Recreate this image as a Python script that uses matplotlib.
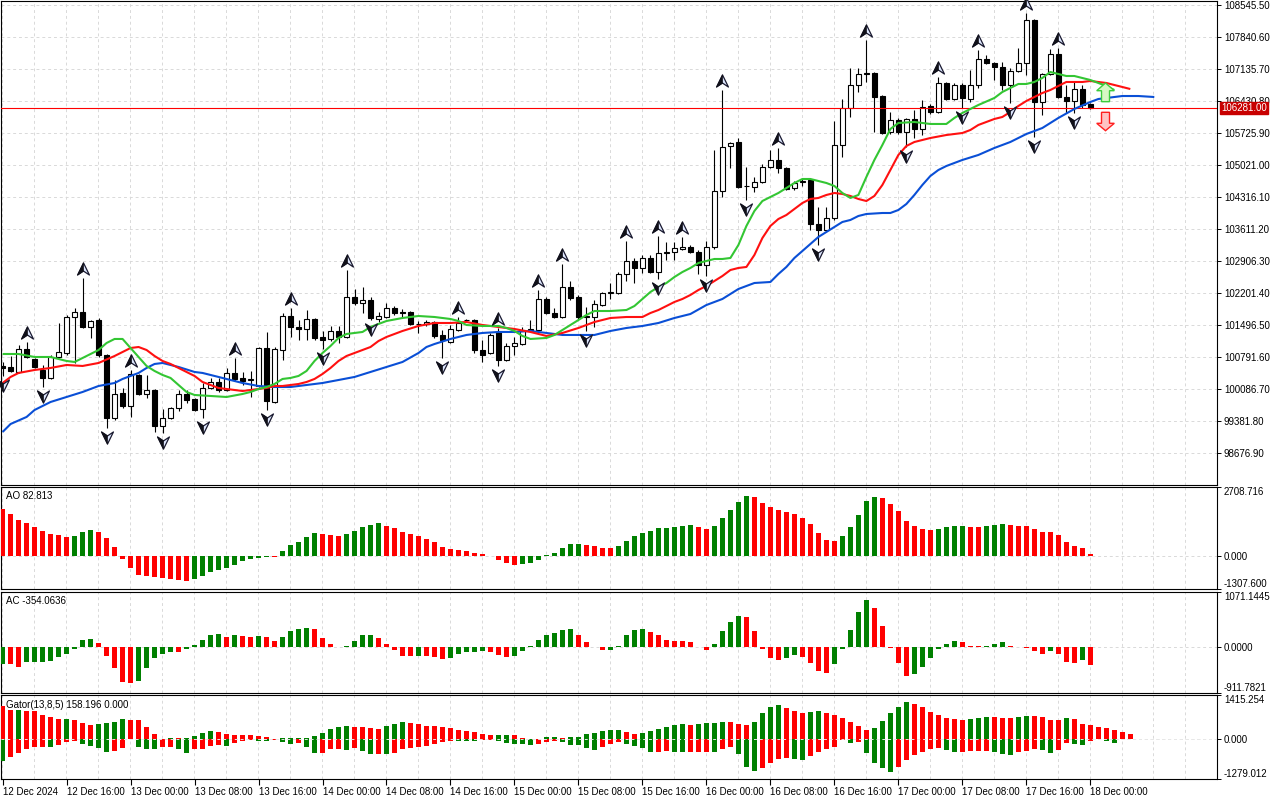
import numpy as np
import matplotlib
matplotlib.use("Agg")
import matplotlib.pyplot as plt
from matplotlib.path import Path
from matplotlib.markers import MarkerStyle
from matplotlib.patches import Polygon
import matplotlib.transforms as mtransforms

plt.rcParams['font.family'] = ['Liberation Sans', 'DejaVu Sans']

# ---------------- data (H1 candles, 12 Dec 08:00 .. 18 Dec 00:00) ----------------
opens = [100594,100572,100462,100968,100748,100506,100330,100792,100880,101673,
         101783,101453,101607,100836,99448,99999,99713,100396,99977,100065,
         99272,99448,99669,99977,99867,99647,100109,100241,100065,100440,
         100330,100285,100153,100990,99801,100946,101695,101453,101409,101629,
         101233,101189,101365,101233,102114,101982,102048,101629,101673,101871,
         101783,101783,101519,101519,101563,101277,101122,101387,101607,101607,
         100946,100880,101343,100726,101034,101078,101387,101387,102070,101761,
         101673,102334,102114,101695,101673,101937,102202,102202,102620,102907,
         102753,102973,102664,103083,103105,103171,103215,103105,102819,103215,
         104449,105430,105528,104559,104537,104647,104977,105132,104955,104515,
         104647,104691,103722,103590,103854,105462,106277,106784,107048,107048,
         106541,105748,106013,105748,106035,105814,106321,106189,106828,106475,
         106784,106475,106784,107356,107268,107180,106784,107092,107268,108215,
         106409,107026,107467,106519,106431,106695,106365]
highs = [100682,100814,101056,101122,100770,100616,100836,101541,101717,101871,
         102532,101607,101651,100858,100285,100109,100506,100418,100396,100087,
         99647,99691,100065,100065,99889,100219,100330,100330,100550,100770,
         100462,100484,101012,101343,101012,101761,101871,101607,101827,101651,
         101365,101475,101475,102708,102290,102334,102114,101783,101982,101915,
         101849,101805,101585,101607,101585,101387,101497,101673,101629,101629,
         101166,101321,101431,101100,101233,101453,101607,102268,102114,101871,
         102841,102466,102158,101893,102048,102224,102422,102664,103347,102973,
         103039,103039,103458,103325,103325,103435,103259,103149,103347,105352,
         106673,105520,105616,104977,104757,105043,105352,105396,104977,104669,
         104735,104735,104096,104096,105991,106475,107158,107158,107775,107070,
         106563,106189,106057,106057,106233,106453,106365,106960,106850,106828,
         106828,107114,107555,107444,107290,107290,107158,107599,108370,108237,
         107048,107577,107599,106784,106850,106784,106387]
lows = [100374,100462,100440,100770,100550,100131,100308,100770,100836,100660,
        101431,101211,100792,99228,99404,99669,99470,99955,99889,99140,
        99118,99426,99603,99779,99603,99448,100087,100021,100043,100263,
        100175,99911,100131,99625,99779,100726,101233,101166,101166,101166,
        100968,101144,101100,101211,101937,101761,101607,101563,101651,101717,
        101673,101497,101321,101475,101211,100770,101100,101365,101563,100880,
        100682,100858,100594,100704,100836,101056,101365,101365,101739,101651,
        101651,102048,101629,101365,101453,101915,102070,102180,102466,102422,
        102642,102642,102510,102929,102929,103149,103083,102620,102576,103171,
        104317,104955,104515,104250,104427,104625,104955,104845,104471,104471,
        104559,103590,103259,103546,103810,105198,106079,106629,106850,105748,
        105704,105704,105704,105418,105616,105682,106145,106167,106453,106453,
        106277,106409,106718,107246,106894,106673,106387,107070,107004,105638,
        106123,107004,106497,106167,106167,106277,106255]
closes = [100550,100484,100968,100792,100572,100330,100792,100902,101673,101783,
          101453,101585,100836,99448,99977,99713,100418,99977,100065,99272,
          99448,99669,99977,99845,99625,100109,100241,100065,100440,100308,
          100263,100295,100990,99823,100968,101695,101453,101409,101629,101211,
          101166,101365,101233,102114,101982,102048,101651,101695,101871,101761,
          101761,101519,101510,101563,101255,101166,101409,101541,101600,100946,
          100836,101277,100726,101034,101100,101387,101409,102070,101761,101673,
          102334,102092,101673,101673,101959,102202,102224,102620,102907,102753,
          102973,102664,103083,103105,103193,103215,103105,102819,103215,104449,
          105418,105500,104537,104550,104647,104977,105132,104955,104493,104625,
          104669,103722,103590,103854,105462,106277,106784,107026,107026,106519,
          105726,106013,105748,106035,105814,106299,106189,106828,106475,106784,
          106497,106784,107356,107268,107180,106784,107092,107268,108215,106409,
          107026,107467,106519,106431,106695,106343,106281]

current_price = 106281.00

# Bill Williams fractals (bar indices)
fractal_up = [3, 10, 16, 29, 36, 43, 57, 62, 67, 70, 78, 82, 85, 90, 97, 108, 117, 122, 128, 132]
fractal_down = [0, 5, 13, 20, 25, 33, 40, 46, 55, 62, 73, 82, 88, 93, 102, 113, 120, 126, 129, 134]

# Alligator (values read at listed bars, lines already shifted forward)
jaw_bars = [0,1,3,4,6,8,10,12,14,15,17,18,19,20,22,24,25,27,29,30,32,34,36,38,40,42,44,46,48,50,
            52,53,54,56,58,60,62,64,66,68,70,72,74,76,78,80,82,84,86,88,90,92,94,96,97,98,99,100,101,102,
            103,104,105,106,107,108,110,111,112,113,114,115,116,117,118,120,122,124,126,128,
            130,132,134,136,137,138,139,140,142,144]
jaw_vals = [99140,99316,99471,99625,99801,99911,100021,100153,100219,100308,
            100440,100550,100638,100660,100572,100462,100440,100352,100263,100219,
            100153,100131,100131,100175,100219,100285,100352,100462,100572,100682,
            100880,101012,101078,101189,101277,101321,101343,101343,101365,101321,
            101277,101277,101277,101365,101431,101475,101541,101651,101739,101937,
            102070,102290,102422,102444,102620,102775,102973,103127,103281,103436,
            103546,103656,103766,103810,103898,103942,103964,103964,104030,104162,
            104361,104581,104779,104911,104999,105132,105242,105396,105528,105704,
            105836,106057,106255,106409,106475,106497,106519,106541,106541,106519]
teeth_bars = [0,1,2,4,6,8,10,12,14,15,16,17,18,19,20,21,22,24,25,26,
              27,28,30,32,33,34,35,37,38,39,40,41,42,43,44,45,46,47,48,50,
              52,54,56,58,60,62,64,66,68,70,72,74,76,78,80,81,82,83,84,85,
              86,87,88,89,90,91,92,93,94,95,96,97,98,99,100,101,102,103,104,105,
              106,107,108,109,110,111,112,113,114,115,116,118,120,121,122,124,125,126,127,128,
              129,130,131,132,133,135,136,137,138,139,140,141]
teeth_vals = [100219,100352,100440,100506,100550,100616,100594,100660,100814,100902,
              100990,101012,100946,100814,100704,100638,100550,100374,100241,100175,
              100109,100087,100043,100087,100109,100153,100153,100197,100241,100308,
              100418,100550,100704,100814,100880,100946,101012,101144,101233,101365,
              101475,101541,101541,101563,101497,101453,101409,101343,101255,101321,
              101431,101563,101651,101673,101673,101761,101827,101915,102004,102070,
              102158,102268,102356,102466,102576,102708,102753,102775,103039,103413,
              103678,103832,103920,104052,104184,104273,104295,104361,104405,104383,
              104339,104273,104228,104339,104581,104911,105242,105440,105528,105572,
              105616,105682,105726,105792,105903,106035,106079,106189,106321,106431,
              106519,106607,106673,106762,106850,106850,106872,106850,106828,106784,
              106740,106695]
lips_bars = [0,2,4,6,8,9,10,12,13,14,15,16,17,18,19,20,21,22,23,24,
             26,28,30,31,32,33,34,35,36,37,38,39,40,41,42,43,44,45,46,48,
             50,52,54,56,57,58,60,62,63,64,65,66,68,69,70,71,72,73,74,76,
             78,79,80,81,82,83,84,85,86,87,88,89,90,91,92,93,94,95,96,97,
             98,99,100,101,102,103,104,105,106,107,108,109,110,111,112,114,116,118,119,120,
             122,124,125,126,127,128,129,130,131,132,133,134,135,136,137,138,139]
lips_vals = [100858,100858,100792,100792,100704,100682,100770,100946,101100,101189,
             101189,100990,100792,100594,100484,100396,100330,100175,100021,99955,
             99933,99911,99977,100021,100087,100131,100197,100308,100330,100374,
             100484,100704,100880,101034,101211,101299,101321,101343,101453,101585,
             101651,101695,101673,101629,101585,101497,101475,101475,101431,101365,
             101255,101189,101211,101277,101387,101497,101607,101717,101805,101805,
             101827,101915,102070,102224,102334,102422,102554,102664,102753,102863,
             102907,102951,102951,102973,103259,103678,104008,104228,104317,104405,
             104515,104625,104713,104713,104669,104625,104559,104405,104295,104361,
             104757,105132,105462,105814,105947,105969,105925,105925,106057,106167,
             106343,106497,106629,106718,106806,106806,106850,106938,107070,107026,
             106982,106982,106938,106894,106828,106762,106673]

# Alligator signal arrows (bar position, prices: tip / neck / base)
signal_bar = 137.9
buy_arrow = [106828, 106658, 106416]
sell_arrow = [106182, 105940, 105777]

# Awesome Oscillator
ao_values = [1841,1655,1418,1288,1130,984,865,826,747,760,
             932,1023,944,707,352,-111,-466,-743,-782,-833,
             -873,-912,-960,-980,-924,-794,-624,-557,-466,-348,
             -213,-134,-83,-32,-40,194,431,549,735,905,
             877,826,786,877,984,1142,1232,1272,1181,1110,
             944,865,786,668,549,352,273,233,194,115,
             75,-10,-162,-269,-359,-320,-269,-162,15,115,
             312,470,480,431,391,312,305,391,589,786,
             905,984,1102,1110,1142,1181,1221,1142,1063,1181,
             1497,1813,2129,2366,2327,2090,1932,1813,1734,1655,
             1497,1260,905,628,589,786,1142,1616,2169,2327,
             2287,2050,1774,1379,1181,1063,1023,1063,1142,1181,
             1190,1150,1142,1181,1221,1260,1221,1181,1175,1063,
             944,935,826,549,391,312,82.813]
# Accelerator Oscillator
ac_values = [-345,-352,-394,-308,-305,-295,-276,-197,-151,-52,
             131,157,79,-177,-413,-689,-722,-669,-413,-216,
             -138,-98,-105,-52,39,138,236,240,197,223,
             210,195,205,180,100,197,315,341,374,341,
             177,46,-13,13,118,230,235,177,46,-72,
             -184,-190,-180,-185,-203,-249,-223,-144,-105,-100,
             -85,-105,-164,-203,-184,-85,5,131,223,262,
             328,348,223,92,-5,-70,-62,20,223,328,
             335,289,223,131,105,100,85,0,-66,46,
             308,486,597,577,302,-46,-223,-262,-223,-164,
             -203,-321,-479,-518,-341,-46,321,676,912,754,
             400,-26,-321,-577,-538,-400,-223,-46,59,105,
             85,20,5,15,59,85,20,0,-26,-85,
             -144,-85,-144,-302,-321,-262,-354.0636]
# Gator Oscillator
gator_upper = [1048,919,925,915,887,759,695,631,640,599,
               513,438,470,513,545,631,625,599,374,150,
               5,32,30,35,86,182,257,214,150,145,
               140,118,86,53,5,21,25,30,35,86,
               182,310,374,406,400,374,342,310,406,475,
               545,513,481,417,410,385,353,289,257,224,
               160,128,130,135,125,32,15,10,64,70,
               21,64,70,160,192,257,289,295,224,160,
               192,257,321,385,449,481,449,481,513,515,
               545,540,481,449,545,834,1026,1090,994,898,
               834,866,898,834,770,673,545,417,289,353,
               577,834,1026,1186,1122,1026,866,770,673,641,
               609,641,673,705,700,673,670,705,737,730,
               705,609,600,673,641,500,440,400,360,280,
               215,158.196]
gator_lower = [-695,-588,-460,-321,-267,-257,-265,-192,-86,-53,
               -160,-235,-289,-417,-396,-289,-5,-246,-321,-325,
               -257,-250,-321,-449,-321,-315,-225,-192,-225,-128,
               -64,-32,-64,-70,-32,-96,-160,-128,-257,-449,
               -445,-330,-320,-353,-288,-385,-481,-470,-490,-440,
               -310,-278,-246,-214,-150,-86,-50,-53,-55,-58,
               -40,-32,-53,-118,-150,-155,-182,-150,-86,-60,
               -86,-182,-185,-278,-342,-246,-150,-86,-150,-214,
               -278,-406,-400,-395,-410,-415,-413,-410,-406,-410,
               -310,-246,-470,-887,-1016,-919,-759,-631,-599,-631,
               -663,-535,-406,-310,-240,-20,-118,-86,-438,-759,
               -919,-1047,-887,-663,-503,-406,-310,-278,-342,-406,
               -400,-395,-390,-374,-406,-470,-500,-406,-374,-310,
               -342,-438,-342,-118,-150,-182,-53,-10,-60,-110]

price_ticks = [108545.50, 107840.60, 107135.70, 106430.80, 105725.90, 105021.00, 104316.10,
               103611.20, 102906.30, 102201.40, 101496.50, 100791.60, 100086.70, 99381.80, 98676.90]
time_labels = ["12 Dec 2024", "12 Dec 16:00", "13 Dec 00:00", "13 Dec 08:00", "13 Dec 16:00",
               "14 Dec 00:00", "14 Dec 08:00", "14 Dec 16:00", "15 Dec 00:00", "15 Dec 08:00",
               "15 Dec 16:00", "16 Dec 00:00", "16 Dec 08:00", "16 Dec 16:00", "17 Dec 00:00",
               "17 Dec 08:00", "17 Dec 16:00", "18 Dec 00:00"]
ao_range = [-1307.600, 2708.716]
ac_range = [-911.7821, 1071.1445]
gator_range = [-1279.012, 1415.254]
main_range = [97972, 108634]

# ---------------- styling ----------------
GREEN = '#008000'
RED = '#FF0000'
GRID = '#d9d9d9'
FS = 7
W, H = 1280.0, 800.0
XMIN, XMAX = -0.2, 151.84

fig = plt.figure(figsize=(12.8, 8.0), dpi=100)
fig.patch.set_facecolor('white')


def rect(x0, y0, x1, y1):
    return [x0 / W, 1 - y1 / H, (x1 - x0) / W, (y1 - y0) / H]


ax_main = fig.add_axes(rect(1, 1, 1217, 485))
ax_ao = fig.add_axes(rect(1, 487, 1217, 589))
ax_ac = fig.add_axes(rect(1, 592, 1217, 693))
ax_gt = fig.add_axes(rect(1, 695, 1217, 779))
axes = [ax_main, ax_ao, ax_ac, ax_gt]

for ax in axes:
    ax.set_xlim(XMIN, XMAX)
    for s in ax.spines.values():
        s.set_linewidth(0.8)
        s.set_color('black')
    for v in range(0, 152, 4):
        ax.axvline(v - 0.1, color=GRID, lw=0.7, ls=(0, (3, 3)), zorder=0)
    ax.yaxis.tick_right()
    ax.tick_params(axis='y', which='both', direction='out', length=3, width=0.7,
                   pad=2, labelsize=FS, left=False, labelleft=False, right=True, labelright=True)
    ax.tick_params(axis='x', which='both', bottom=False, labelbottom=False, top=False)

# ---------------- main chart ----------------
n = len(opens)
idx = np.arange(n)
o = np.array(opens, float)
hh = np.array(highs, float)
ll = np.array(lows, float)
c = np.array(closes, float)

ax_main.set_ylim(*main_range)
for p in price_ticks:
    ax_main.axhline(p, color=GRID, lw=0.7, ls=(0, (3, 3)), zorder=0)
ax_main.set_yticks(price_ticks)
ax_main.set_yticklabels([f"{p:.2f}" for p in price_ticks])

ax_main.vlines(idx, ll, hh, color='black', lw=0.8, zorder=3)
bull = c >= o
body_low = np.minimum(o, c)
body_h = np.maximum(np.abs(c - o), 12)
ax_main.bar(idx, body_h, bottom=body_low, width=0.62,
            color=np.where(bull, 'white', 'black'), edgecolor='black', linewidth=0.8, zorder=4)

ax_main.axhline(current_price, color='#FF0000', lw=0.8, zorder=4.5)

ax_main.plot(jaw_bars, jaw_vals, color='#0A4FD6', lw=1.5, zorder=5, solid_capstyle='butt')
ax_main.plot(teeth_bars, teeth_vals, color='#FF1010', lw=1.5, zorder=5, solid_capstyle='butt')
ax_main.plot(lips_bars, lips_vals, color='#33C633', lw=1.5, zorder=5, solid_capstyle='butt')

# fractal glyphs: outlined arrowhead with the left half filled dark
C = Path.CLOSEPOLY
up_full = Path([(0, 0.5), (0.45, -0.42), (0, -0.12), (-0.45, -0.42), (0, 0.5)],
               [Path.MOVETO, Path.LINETO, Path.LINETO, Path.LINETO, C])
up_half = Path([(0, 0.5), (0, -0.12), (-0.45, -0.42), (0, 0.5), (0, 0.5)],
               [Path.MOVETO, Path.LINETO, Path.LINETO, Path.LINETO, C])
dn_full = Path([(0, -0.5), (0.45, 0.42), (0, 0.12), (-0.45, 0.42), (0, -0.5)],
               [Path.MOVETO, Path.LINETO, Path.LINETO, Path.LINETO, C])
dn_half = Path([(0, -0.5), (0, 0.12), (-0.45, 0.42), (0, -0.5), (0, -0.5)],
               [Path.MOVETO, Path.LINETO, Path.LINETO, Path.LINETO, C])
tr_up = mtransforms.offset_copy(ax_main.transData, fig=fig, y=6.2, units='points')
tr_dn = mtransforms.offset_copy(ax_main.transData, fig=fig, y=-6.2, units='points')
for pth, tr, vals, ids in [(up_full, tr_up, hh, fractal_up), (dn_full, tr_dn, ll, fractal_down)]:
    ax_main.plot(ids, vals[ids], ls='none', marker=MarkerStyle(pth), ms=9.5,
                 mfc='#dfe8ff', mec='#1a1a30', mew=0.9, transform=tr, zorder=6, clip_on=False)
for pth, tr, vals, ids in [(up_half, tr_up, hh, fractal_up), (dn_half, tr_dn, ll, fractal_down)]:
    ax_main.plot(ids, vals[ids], ls='none', marker=MarkerStyle(pth), ms=9.5,
                 mfc='#101018', mec='#101018', mew=0.5, transform=tr, zorder=6.5, clip_on=False)

# signal arrows
hw, sw = 1.1, 0.5
tip, neck, base = buy_arrow
buy_poly = [(signal_bar, tip), (signal_bar + hw, neck), (signal_bar + sw, neck), (signal_bar + sw, base),
            (signal_bar - sw, base), (signal_bar - sw, neck), (signal_bar - hw, neck)]
ax_main.add_patch(Polygon(buy_poly, closed=True, fc='#d6f7c4', ec='#3ccc3c', lw=1.0, zorder=6))
top, neck2, tip2 = sell_arrow
sell_poly = [(signal_bar - sw, top), (signal_bar + sw, top), (signal_bar + sw, neck2), (signal_bar + hw, neck2),
             (signal_bar, tip2), (signal_bar - hw, neck2), (signal_bar - sw, neck2)]
ax_main.add_patch(Polygon(sell_poly, closed=True, fc='#ffc4c4', ec='#ff2020', lw=1.0, zorder=6))

# current price label
btr = mtransforms.blended_transform_factory(ax_main.transAxes, ax_main.transData)
ax_main.text(1.0 + 4.5 / 1216, current_price, f"{current_price:.2f}", transform=btr, ha='left', va='center',
             fontsize=FS, color='white', zorder=10, clip_on=False,
             bbox=dict(boxstyle='square,pad=0.12', fc='#C80000', ec='#C80000'))


# ---------------- sub indicators ----------------
def colors_rising(vals, first):
    cols = [first]
    for i in range(1, len(vals)):
        cols.append(GREEN if vals[i] > vals[i - 1] else RED)
    return cols


def setup_sub(ax, rng, labels, title, height_px):
    ax.set_ylim(*rng)
    ax.axhline(0, color=GRID, lw=0.7, ls=(0, (3, 3)), zorder=0)
    ax.set_yticks([rng[0], 0, rng[1]])
    ax.set_yticklabels(labels)
    tl = ax.get_yticklabels()
    tl[0].set_va('bottom')
    tl[2].set_va('top')
    ax.text(5 / 1216, 1 - 9.5 / height_px, title, transform=ax.transAxes, ha='left', va='center',
            fontsize=FS, color='black', zorder=10)


ao_idx = np.arange(len(ao_values))
ax_ao.bar(ao_idx, ao_values, width=0.55, color=colors_rising(ao_values, RED), linewidth=0, zorder=3)
setup_sub(ax_ao, ao_range, ["-1307.600", "0.000", "2708.716"], "AO 82.813", 102)

ac_idx = np.arange(len(ac_values))
ax_ac.bar(ac_idx, ac_values, width=0.55, color=colors_rising(ac_values, GREEN), linewidth=0, zorder=3)
setup_sub(ax_ac, ac_range, ["-911.7821", "0.0000", "1071.1445"], "AC -354.0636", 101)

gu_idx = np.arange(len(gator_upper))
gl_idx = np.arange(len(gator_lower))
ax_gt.bar(gu_idx, gator_upper, width=0.55, color=colors_rising(gator_upper, RED), linewidth=0, zorder=3)
abs_low = [abs(v) for v in gator_lower]
ax_gt.bar(gl_idx, gator_lower, width=0.55, color=colors_rising(abs_low, GREEN), linewidth=0, zorder=3)
setup_sub(ax_gt, gator_range, ["-1279.012", "0.000", "1415.254"], "Gator(13,8,5) 158.196 0.000", 84)
ax_gt.axhline(0, color='#e8e8e8', lw=0.7, ls=(0, (3, 3)), zorder=4)

# time axis
xt = list(range(0, 8 * len(time_labels), 8))
ax_gt.set_xticks(xt)
ax_gt.set_xticklabels(time_labels)
ax_gt.tick_params(axis='x', bottom=True, labelbottom=True, direction='out', length=4, width=0.8,
                  pad=1.5, labelsize=FS)
for lbl in ax_gt.get_xticklabels():
    lbl.set_ha('left')

fig.savefig("out.png", dpi=100, facecolor='white')
